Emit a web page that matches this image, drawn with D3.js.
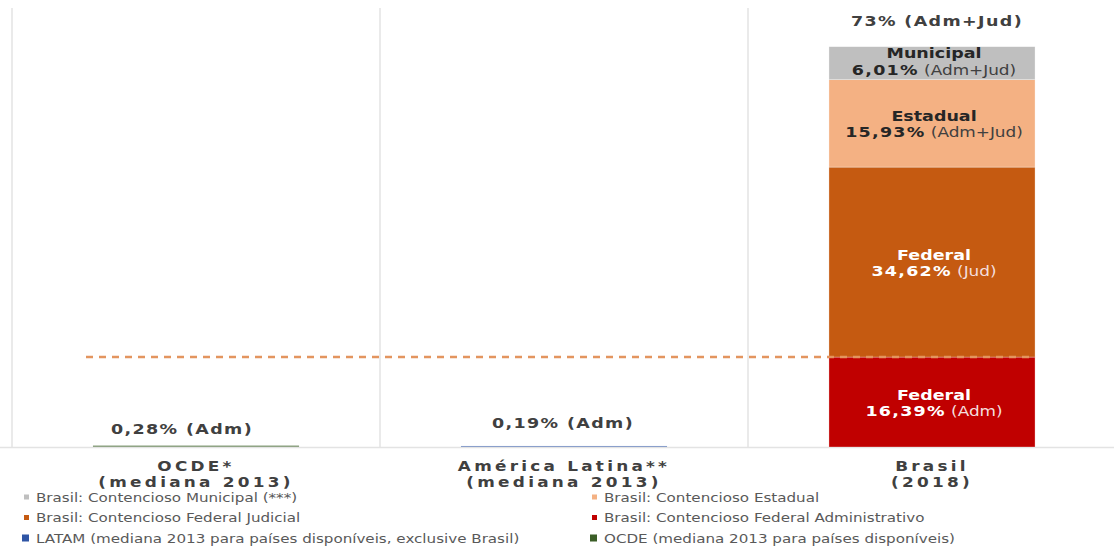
<!DOCTYPE html>
<html>
<head>
<meta charset="utf-8">
<script src="https://cdn.jsdelivr.net/npm/d3@7"></script>
<style>
  html, body { margin: 0; padding: 0; background: #fff; }
  svg { display: block; font-family: "DejaVu Sans", Verdana, sans-serif; }
</style>
</head>
<body>
<svg id="chart" width="1114" height="547"></svg>
<script>
// Categories (x axis), two-line labels
const categories = ["OCDE", "LATAM", "Brasil"];
const categoryLines = [
  ["OCDE*", "(mediana 2013)"],
  ["América Latina**", "(mediana 2013)"],
  ["Brasil", "(2018)"]
];

// Stack series for Brasil (bottom to top), % of GDP
const brasilSeries = ["Federal Adm", "Federal Jud", "Estadual", "Municipal"];
const brasilValues = [16.39, 34.62, 15.93, 6.01];
const brasilNames = ["Federal", "Federal", "Estadual", "Municipal"];
const brasilValueText = ["16,39%", "34,62%", "15,93%", "6,01%"];
const brasilTypeText = ["(Adm)", "(Jud)", "(Adm+Jud)", "(Adm+Jud)"];
const brasilTotalText = "73% (Adm+Jud)";

// Single bars for OECD / Latin America medians
const medianCategories = ["OCDE", "LATAM"];
const medianValues = [0.28, 0.19];
const medianLabels = ["0,28% (Adm)", "0,19% (Adm)"];

// Reference line value (Brasil federal administrative)
const refLineValue = 16.39;

// Legend entries
const legendLabels = [
  "Brasil: Contencioso Municipal (***)",
  "Brasil: Contencioso Estadual",
  "Brasil: Contencioso Federal Judicial",
  "Brasil: Contencioso Federal Administrativo",
  "LATAM (mediana 2013 para países disponíveis, exclusive Brasil)",
  "OCDE (mediana 2013 para países disponíveis)"
];

const colors = {
  "Municipal": "#bfbfbf",
  "Estadual": "#f4b183",
  "Federal Jud": "#c55a11",
  "Federal Adm": "#c00000",
  "LATAM": "#2f55a5",
  "OCDE": "#3b5e27"
};
const legendColors = [colors["Municipal"], colors["Estadual"], colors["Federal Jud"],
                      colors["Federal Adm"], colors["LATAM"], colors["OCDE"]];

// Wide text: horizontally stretched lettering
const SX = 1.25;
function placeText(parent, px, py) {
  return parent.append("text")
    .attr("transform", `translate(${px},${py}) scale(${SX},1)`);
}

const svg = d3.select("#chart");

const x = d3.scaleBand().domain(categories).range([12, 1116]).padding(0);
const y = d3.scaleLinear().domain([0, 80]).range([447, 8]);
const barW = x.bandwidth() * 0.56;
const barX = c => x(c) + (x.bandwidth() - barW) / 2;
const cx = c => x(c) + x.bandwidth() / 2;

// Vertical grid separators between categories
const gridX = categories.map(c => x(c)).concat([x.range()[1]]);
svg.append("g").selectAll("line").data(gridX).join("line")
  .attr("x1", d => d).attr("x2", d => d)
  .attr("y1", y(80)).attr("y2", y(0))
  .attr("stroke", "#e3e3e3").attr("stroke-width", 1.5);

// Baseline
svg.append("line")
  .attr("x1", 0).attr("x2", 1114)
  .attr("y1", y(0) + 0.5).attr("y2", y(0) + 0.5)
  .attr("stroke", "#e3e3e3").attr("stroke-width", 1.5);

// Brasil stacked bar
const stackData = [Object.fromEntries(brasilSeries.map((s, i) => [s, brasilValues[i]]))];
const stacked = d3.stack().keys(brasilSeries)(stackData);
const segs = stacked.map((layer, i) => ({
  key: layer.key, y0: layer[0][0], y1: layer[0][1], i
}));

svg.append("g").selectAll("rect").data(segs).join("rect")
  .attr("x", barX("Brasil"))
  .attr("width", barW)
  .attr("y", d => y(d.y1))
  .attr("height", d => y(d.y0) - y(d.y1))
  .attr("fill", d => colors[d.key])
  .attr("stroke", "#ffffff").attr("stroke-width", 0.6).attr("stroke-opacity", 0.5);

// Median bars (very small values)
svg.append("g").selectAll("rect").data(medianCategories).join("rect")
  .attr("x", c => barX(c))
  .attr("width", barW)
  .attr("y", (c, i) => y(medianValues[i]))
  .attr("height", (c, i) => y(0) - y(medianValues[i]))
  .attr("fill", c => colors[c])
  .attr("fill-opacity", 0.55);

// Dashed reference line
svg.append("line")
  .attr("x1", 86).attr("x2", barX("Brasil") + barW)
  .attr("y1", y(refLineValue)).attr("y2", y(refLineValue))
  .attr("stroke", "#e3955f").attr("stroke-width", 2.5)
  .attr("stroke-dasharray", "7,6");

// Segment labels
const segLabels = svg.append("g").attr("text-anchor", "middle");
segs.forEach(d => {
  const mid = (y(d.y0) + y(d.y1)) / 2;
  const dark = d.key === "Municipal" || d.key === "Estadual";
  const fill = dark ? "#262626" : "#ffffff";
  const up = d.key === "Municipal" ? 5 : 2;
  const down = d.key === "Municipal" ? 11.5 : 14;
  placeText(segLabels, cx("Brasil") + 2, mid - up)
    .attr("fill", fill).attr("font-weight", "bold").attr("font-size", 14)
    .text(brasilNames[d.i]);
  const t = placeText(segLabels, cx("Brasil") + 2, mid + down)
    .attr("fill", fill).attr("font-size", 14);
  t.append("tspan").attr("font-weight", "bold").attr("letter-spacing", 1)
    .text(brasilValueText[d.i]);
  t.append("tspan").attr("fill", dark ? "#404040" : "#f4dede").attr("font-size", 13.5)
    .text(" " + brasilTypeText[d.i]);
});

// Total label above stack
placeText(svg, cx("Brasil") + 5, y(d3.sum(brasilValues)) - 21)
  .attr("text-anchor", "middle").attr("font-size", 14).attr("font-weight", "bold")
  .attr("letter-spacing", 1.1).attr("fill", "#404040")
  .text(brasilTotalText);

// Median value labels
const medianShift = [-14, -1];
medianCategories.forEach((c, i) => {
  placeText(svg, cx(c) + medianShift[i], y(medianValues[i]) - (i === 0 ? 11 : 18))
    .attr("text-anchor", "middle").attr("font-size", 14).attr("font-weight", "bold")
    .attr("letter-spacing", 1.1).attr("fill", "#404040")
    .text(medianLabels[i]);
});

// Category axis labels
const catG = svg.append("g").attr("text-anchor", "middle");
categories.forEach((c, i) => {
  categoryLines[i].forEach((line, j) => {
    placeText(catG, cx(c), 471 + j * 15.5)
      .attr("font-size", 13.5).attr("font-weight", "bold")
      .attr("letter-spacing", 2.6).attr("fill", "#404040")
      .text(line);
  });
});

// Legend (two columns, three rows)
const legend = svg.append("g").attr("fill", "#595959");
legendLabels.forEach((lab, i) => {
  const col = i % 2, row = Math.floor(i / 2);
  const lx = col === 0 ? 22 : 590;
  const ly = 497 + row * 20.5;
  const sz = row === 2 ? 7 : 5;
  legend.append("rect")
    .attr("x", lx + (7 - sz)).attr("y", ly - sz / 2)
    .attr("width", sz).attr("height", sz)
    .attr("fill", legendColors[i]);
  placeText(legend, lx + 14, ly + 4.5)
    .attr("font-size", 12.1)
    .text(lab);
});
</script>
</body>
</html>
